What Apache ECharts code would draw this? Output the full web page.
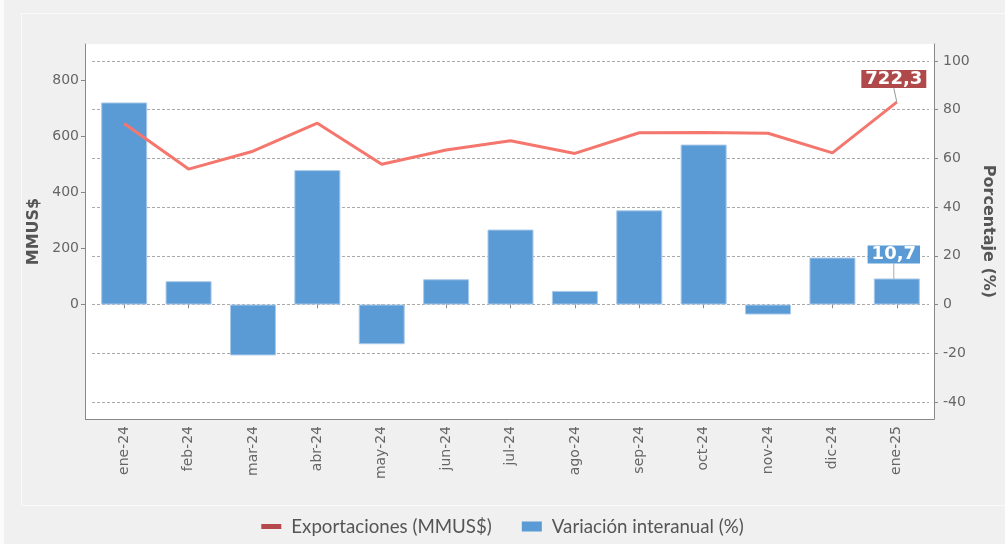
<!DOCTYPE html>
<html>
<head>
<meta charset="utf-8">
<script src="https://cdn.jsdelivr.net/npm/echarts@6/dist/echarts.min.js"></script>
<style>
  html, body { margin: 0; padding: 0; background: #f0f0f0; }
  #chart { width: 1005px; height: 544px; }
</style>
</head>
<body>
<div id="chart"></div>
<script>
const categories = ["ene-24", "feb-24", "mar-24", "abr-24", "may-24", "jun-24", "jul-24",
  "ago-24", "sep-24", "oct-24", "nov-24", "dic-24", "ene-25"];
// Exportaciones (MMUS$) - eje izquierdo
const exportaciones = [646, 483, 547, 647, 500, 551, 584, 539, 613, 614, 611, 541, 722.3];
// Variación interanual (%) - eje derecho
const variacion = [83.0, 9.6, -20.9, 55.2, -16.3, 10.4, 30.8, 5.6, 38.7, 65.7, -4.1, 19.3, 10.7];
const leftTicks = [0, 200, 400, 600, 800];
const rightTicks = [-40, -20, 0, 20, 40, 60, 80, 100];

const last = categories.length - 1;
const fmt = (v) => v.toFixed(1).replace(".", ",");

const lineData = exportaciones.map((v, i) => i === last ? { value: v, label: { show: true } } : v);
const barData = variacion.map((v, i) => i === last ? { value: v, label: { show: true } } : v);

const chart = echarts.init(document.getElementById("chart"));

const option = {
  backgroundColor: "#f0f0f0",
  textStyle: { fontFamily: "DejaVu Sans" },
  animation: false,
  graphic: [
    { type: "rect", z: -20, shape: { x: 0, y: 0, width: 4, height: 544 }, style: { fill: "#fbfbfb" } },
    { type: "rect", z: -20, shape: { x: 21.5, y: 13.5, width: 1000, height: 492 },
      style: { fill: "none", stroke: "#fafafa", lineWidth: 1 } },
    { type: "rect", z: -10, shape: { x: 85, y: 44, width: 849, height: 375 }, style: { fill: "#ffffff" } },
    { type: "line", z: 5, shape: { x1: 85, y1: 419.5, x2: 934.5, y2: 419.5 },
      style: { stroke: "#888888", lineWidth: 1 } }
  ],
  grid: { left: 92, right: 76, top: 44, bottom: 125, containLabel: false },
  legend: {
    bottom: 3,
    left: "center",
    itemWidth: 20,
    itemHeight: 10,
    itemGap: 30,
    textStyle: { fontFamily: "Lato", fontSize: 18.7, color: "#555", padding: [0, 0, 0, 5] },
    data: [
      { name: "Exportaciones (MMUS$)", icon: "path://M0,0H20V5H0Z", itemStyle: { color: "#b5484a", borderWidth: 0 } },
      { name: "Variación interanual (%)", icon: "rect", itemStyle: { color: "#5b9bd5", borderWidth: 0 } }
    ]
  },
  xAxis: {
    type: "category",
    data: categories,
    boundaryGap: true,
    axisLine: { show: false },
    axisTick: { show: true, alignWithLabel: true, length: 4, lineStyle: { color: "#888" } },
    axisLabel: { rotate: 90, color: "#666", fontSize: 14, margin: 7, interval: 0 },
    splitLine: { show: false }
  },
  yAxis: [
    {
      type: "value",
      name: "MMUS$",
      nameLocation: "middle",
      nameGap: 41,
      nameTextStyle: { fontWeight: "bold", fontSize: 16, color: "#555" },
      min: -410,
      max: 930,
      offset: 7,
      axisLine: { show: true, lineStyle: { color: "#888" } },
      axisTick: { show: true, length: 4, customValues: leftTicks, lineStyle: { color: "#888" } },
      axisLabel: { color: "#666", fontSize: 14, margin: 6, customValues: leftTicks },
      splitLine: { show: false }
    },
    {
      type: "value",
      name: "Porcentaje (%)",
      nameLocation: "middle",
      nameGap: 40,
      nameRotate: -90,
      nameTextStyle: { fontWeight: "bold", fontSize: 16, color: "#555" },
      min: -47,
      max: 107,
      offset: 5,
      axisLine: { show: true, lineStyle: { color: "#888" } },
      axisTick: { show: true, length: 4, customValues: rightTicks, lineStyle: { color: "#888" } },
      axisLabel: { color: "#666", fontSize: 14, margin: 9, customValues: rightTicks },
      splitLine: { show: true, lineStyle: { color: "#aaa", type: [3, 2], width: 1 } }
    }
  ],
  series: [
    {
      name: "Variación interanual (%)",
      type: "bar",
      yAxisIndex: 1,
      barWidth: 46,
      z: 2,
      itemStyle: { color: "#5b9bd5", borderColor: "#a9c9ea", borderWidth: 1 },
      label: {
        show: false,
        position: "top",
        formatter: (p) => fmt(p.value),
        backgroundColor: "#5b9bd5",
        color: "#fff",
        fontWeight: "bold",
        fontSize: 18,
        padding: [0, 4]
      },
      labelLayout: { dx: -3, dy: -10 },
      labelLine: { show: true, lineStyle: { color: "#aaa", width: 1 } },
      data: barData
    },
    {
      name: "Exportaciones (MMUS$)",
      type: "line",
      yAxisIndex: 0,
      z: 3,
      symbol: "circle",
      symbolSize: 0.1,
      showSymbol: true,
      itemStyle: { color: "#b5484a" },
      lineStyle: { color: "#f4766d", width: 3 },
      label: {
        show: false,
        position: "top",
        formatter: (p) => fmt(p.value),
        backgroundColor: "#b04a4a",
        color: "#fff",
        fontWeight: "bold",
        fontSize: 18,
        padding: [0, 4]
      },
      labelLayout: { dx: -3, dy: -9 },
      labelLine: { show: true, lineStyle: { color: "#999", width: 1 } },
      data: lineData
    }
  ]
};

chart.setOption(option);
</script>
</body>
</html>
